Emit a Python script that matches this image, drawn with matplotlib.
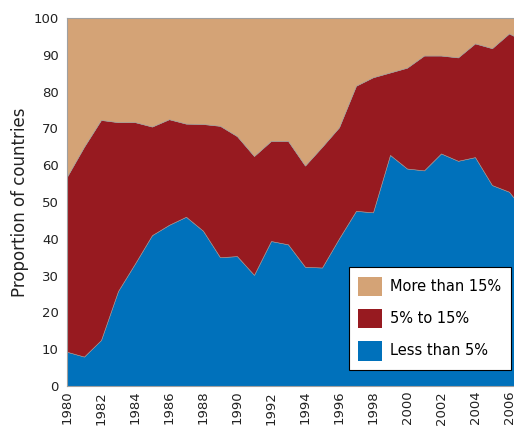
import matplotlib
matplotlib.use("Agg")
import matplotlib.pyplot as plt
import numpy as np

# Data, stacked shares of countries
years = np.arange(1980, 2008)
less_than_5 = [9.3, 8.0, 12.5, 25.8, 33.3, 41.0, 43.8, 46.0, 42.2, 35.0,
               35.3, 30.2, 39.4, 38.5, 32.4, 32.2, 40.1, 47.6, 47.2, 62.8,
               59.1, 58.6, 63.2, 61.2, 62.2, 54.6, 52.8, 47.0]
upto_15_cum = [56.9, 65.0, 72.3, 71.7, 71.7, 70.5, 72.5, 71.3, 71.2, 70.7,
               67.9, 62.5, 66.6, 66.6, 59.9, 65.0, 70.3, 81.6, 83.9, 85.2,
               86.5, 89.8, 89.8, 89.3, 93.1, 91.8, 95.8, 93.5]
labels = ["Less than 5%", "5% to 15%", "More than 15%"]
colors = ["#0071BB", "#971A20", "#D4A376"]

blue = np.array(less_than_5)
red = np.array(upto_15_cum) - blue
tan = 100 - np.array(upto_15_cum)

fig = plt.figure(figsize=(5.14, 4.28), dpi=100)
ax = fig.add_axes([67 / 514, 1 - 386 / 428, 1 - 67 / 514, (386 - 18) / 428])

polys = ax.stackplot(years, blue, red, tan, colors=colors, labels=labels,
                     edgecolor="#9a9a9a", linewidth=0.4)

ax.set_xlim(1980, 1980 + (514 - 67) / 17.0)
ax.set_ylim(0, 100)
ax.set_yticks(range(0, 101, 10))
ax.set_xticks(range(1980, 2007, 2))
ax.tick_params(axis="both", length=0, labelsize=9.5, colors="#222222")
ax.tick_params(axis="y", pad=6)
plt.setp(ax.get_xticklabels(), rotation=90)
for s in ax.spines.values():
    s.set_color("#a0a0a0")
    s.set_linewidth(0.8)
ax.spines["right"].set_visible(False)

ax.set_ylabel("Proportion of countries", fontsize=12, color="#222222", labelpad=3)

# legend order: top layer first
h, l = ax.get_legend_handles_labels()
leg = ax.legend(h[::-1], l[::-1], loc="lower right", bbox_to_anchor=(0.9933, 0.0435),
                borderaxespad=0, fontsize=10.5, frameon=True, fancybox=False,
                handlelength=1.6, handleheight=1.7, labelspacing=0.85, borderpad=0.65,
                handletextpad=0.6, framealpha=1)
leg.get_frame().set_facecolor("white")
leg.get_frame().set_edgecolor("black")
leg.get_frame().set_linewidth(0.8)
for p in leg.get_patches():
    p.set_edgecolor("none")

fig.savefig("out.png", dpi=100)
